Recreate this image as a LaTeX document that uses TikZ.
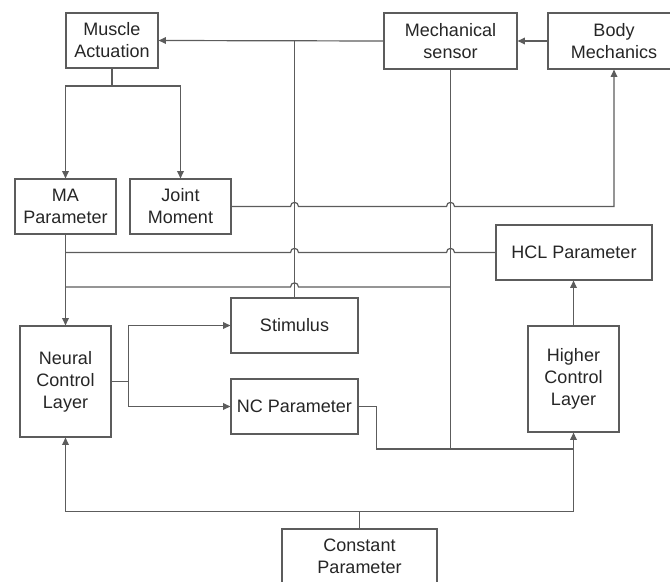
\documentclass[tikz,border=0pt]{standalone}
\usepackage{fontspec}
\setmainfont{Liberation Sans}
\usepackage{xcolor}
\usetikzlibrary{arrows.meta}
\definecolor{linegray}{rgb}{0.36,0.36,0.36}
\definecolor{textgray}{rgb}{0.15,0.15,0.15}

\begin{document}
\begin{tikzpicture}[x=0.75pt, y=-0.75pt,
    box/.style={draw=linegray, line width=0.9pt, fill=white, inner sep=0pt,
        align=center, text=textgray, font=\fontsize{13.5}{16.5}\selectfont},
    wire/.style={draw=linegray, line width=0.9pt},
    arr/.style={wire, -{Triangle[length=5.5pt, width=5pt]}}]
        \clip (0,0) rectangle (670,581);

        % Top row
        \node[box, minimum width=69pt, minimum height=41.25pt] (mus) at (112,40.5) {Muscle\\Actuation};
        \node[box, minimum width=99.75pt, minimum height=42pt] (mech) at (450.5,41) {Mechanical\\sensor};
        \node[box, minimum width=99pt, minimum height=42pt] (body) at (614,41) {Body\\Mechanics};

        % Second row
        \node[box, minimum width=75.75pt, minimum height=41.25pt] (mapar) at (65.5,206.5) {MA\\Parameter};
        \node[box, minimum width=75.75pt, minimum height=41.25pt] (joint) at (180.5,206.5) {Joint\\Moment};
        \node[box, minimum width=117pt, minimum height=41.25pt] (hclp) at (574,252.5) {HCL Parameter};

        % Control layers
        \node[box, minimum width=68.25pt, minimum height=83.25pt] (ncl) at (65.5,381.5) {Neural\\Control\\Layer};
        \node[box, minimum width=95.25pt, minimum height=41.25pt] (stim) at (294.5,325.5) {Stimulus};
        \node[box, minimum width=95.25pt, minimum height=41.25pt] (ncp) at (294.5,406.5) {NC Parameter};
        \node[box, minimum width=68.25pt, minimum height=79.5pt] (hcl) at (573.5,379) {Higher\\Control\\Layer};
        \node[box, minimum width=116.25pt, minimum height=41.25pt] (const) at (359.5,556.5) {Constant\\Parameter};

        % Sensor and stimulus to muscle
        \draw[arr] (body.west) -- (mech.east);
        \draw[arr] (mech.west) -- (mus.east);
        \draw[wire] (stim.north) -- (stim.north |- mus.east);

        % Muscle to parameters
        \draw[wire] (mus.south) -- ++(0,17.5) coordinate (split);
        \draw[arr] (split) -| (mapar.north);
        \draw[arr] (split) -| (joint.north);
        \draw[arr] (mapar.south) -- (ncl.north);

        % Joint moment to body, hopping over
        \draw[arr] (joint.east) -- (290.5,206.5) .. controls (290.5,201) and (298.5,201) .. (298.5,206.5)
            -- (446.5,206.5) .. controls (446.5,201) and (454.5,201) .. (454.5,206.5)
            -| (body.south);

        % HCL parameter back to neural layer
        \draw[wire] (hclp.west) -- (454.5,252.5) .. controls (454.5,247) and (446.5,247) .. (446.5,252.5)
            -- (298.5,252.5) .. controls (298.5,247) and (290.5,247) .. (290.5,252.5)
            -- (mapar.south |- hclp.west);

        % Sensor feedback
        \coordinate (tap) at (450.5,287);
        \coordinate (merge) at (hcl.south |- 0,449);
        \draw[wire] (mech.south) -- (tap) -- (tap |- merge);
        \draw[wire] (tap) -- (298.5,287) .. controls (298.5,281.5) and (290.5,281.5) .. (290.5,287)
            -- (mapar.south |- tap);

        % Neural layer outputs
        \draw[wire] (ncl.east) -- ++(17,0) coordinate (fork);
        \draw[arr] (fork) |- (stim.west);
        \draw[arr] (fork) |- (ncp.west);
        \draw[wire] (ncp.east) -- ++(18,0) |- (merge);
        \draw[arr] (hcl.north) -- (hcl.north |- hclp.south);

        % Constant parameter
        \draw[wire] (const.north) -- ++(0,-17) coordinate (cbus);
        \draw[arr] (cbus) -| (ncl.south);
        \draw[arr] (cbus) -| (hcl.south);
    \end{tikzpicture}
\end{document}
